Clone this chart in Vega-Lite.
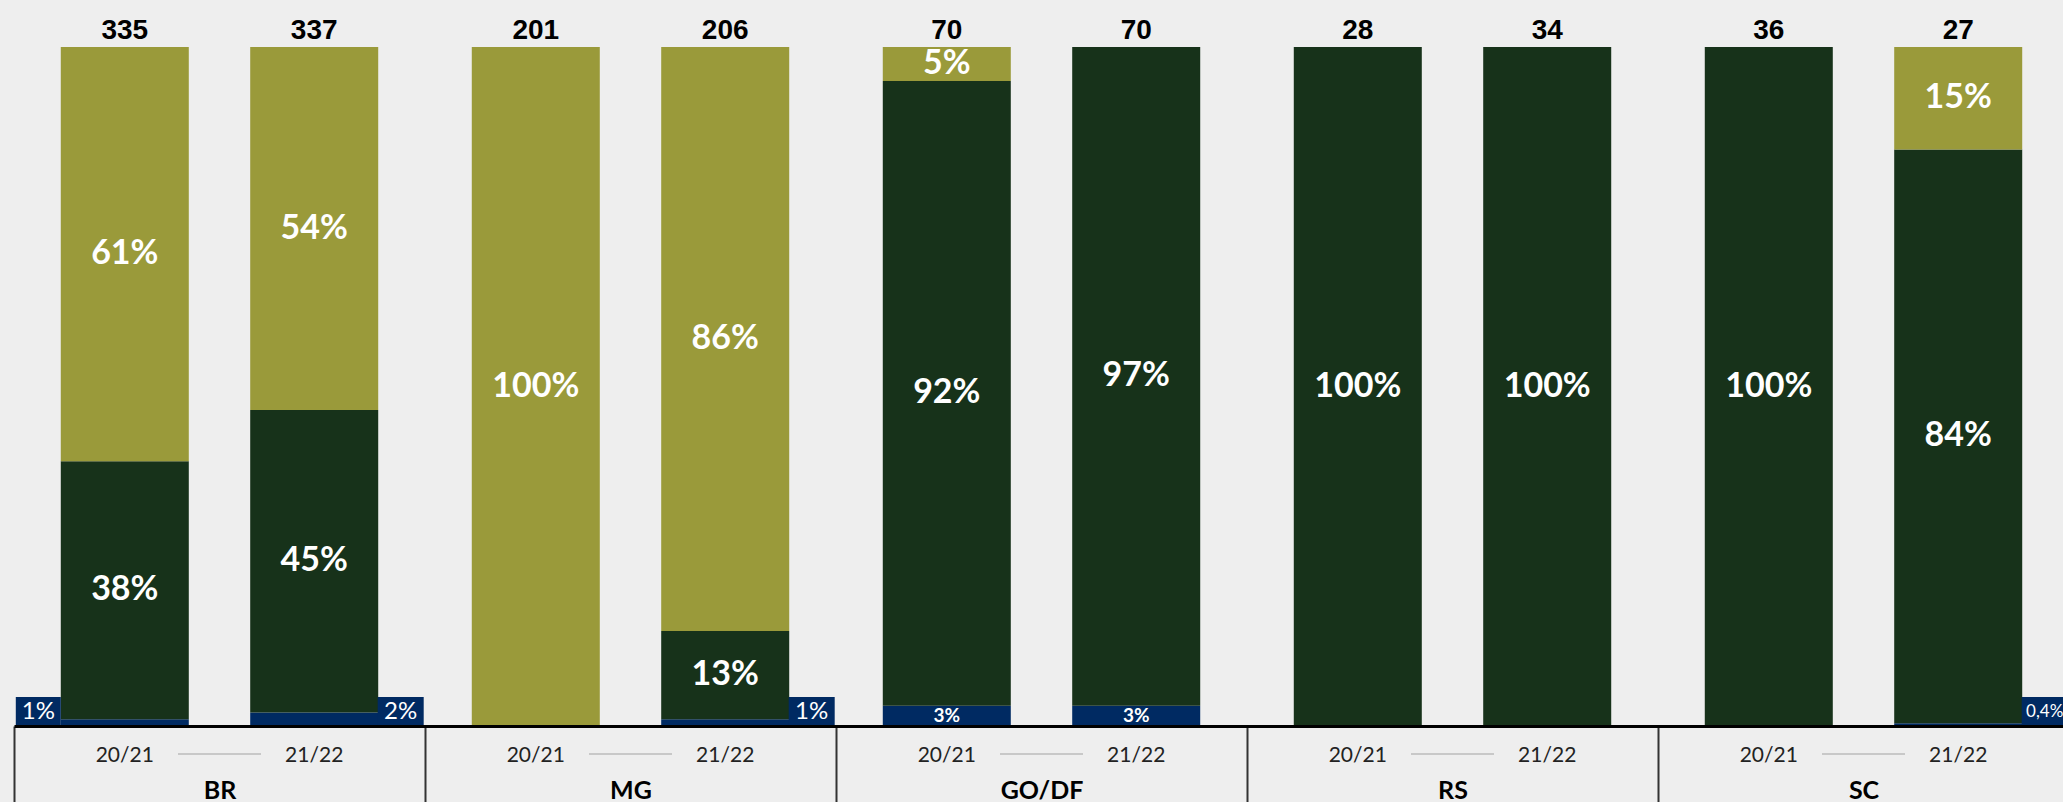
{
  "$schema": "https://vega.github.io/schema/vega-lite/v6.json",
  "width": 2063,
  "height": 679,
  "autosize": {"type": "none"},
  "padding": {"left": 0, "right": 0, "top": 47, "bottom": 76},
  "background": "#eeeeee",
  "config": {"view": {"stroke": null}, "font": "Lato"},
  "datasets": {
    "main": [
      {"group": "BR", "year": "20/21", "cat": "A", "pct": 1, "label": "1%"},
      {"group": "BR", "year": "20/21", "cat": "B", "pct": 38, "label": "38%"},
      {"group": "BR", "year": "20/21", "cat": "C", "pct": 61, "label": "61%"},
      {"group": "BR", "year": "21/22", "cat": "A", "pct": 2, "label": "2%"},
      {"group": "BR", "year": "21/22", "cat": "B", "pct": 45, "label": "45%"},
      {"group": "BR", "year": "21/22", "cat": "C", "pct": 54, "label": "54%"},
      {"group": "MG", "year": "20/21", "cat": "C", "pct": 100, "label": "100%"},
      {"group": "MG", "year": "21/22", "cat": "A", "pct": 1, "label": "1%"},
      {"group": "MG", "year": "21/22", "cat": "B", "pct": 13, "label": "13%"},
      {"group": "MG", "year": "21/22", "cat": "C", "pct": 86, "label": "86%"},
      {"group": "GO/DF", "year": "20/21", "cat": "A", "pct": 3, "label": "3%"},
      {"group": "GO/DF", "year": "20/21", "cat": "B", "pct": 92, "label": "92%"},
      {"group": "GO/DF", "year": "20/21", "cat": "C", "pct": 5, "label": "5%"},
      {"group": "GO/DF", "year": "21/22", "cat": "A", "pct": 3, "label": "3%"},
      {"group": "GO/DF", "year": "21/22", "cat": "B", "pct": 97, "label": "97%"},
      {"group": "RS", "year": "20/21", "cat": "B", "pct": 100, "label": "100%"},
      {"group": "RS", "year": "21/22", "cat": "B", "pct": 100, "label": "100%"},
      {"group": "SC", "year": "20/21", "cat": "B", "pct": 100, "label": "100%"},
      {"group": "SC", "year": "21/22", "cat": "A", "pct": 0.4, "label": "0,4%"},
      {"group": "SC", "year": "21/22", "cat": "B", "pct": 84, "label": "84%"},
      {"group": "SC", "year": "21/22", "cat": "C", "pct": 15, "label": "15%"}
    ],
    "totals": [
      {"group": "BR", "year": "20/21", "total": 335},
      {"group": "BR", "year": "21/22", "total": 337},
      {"group": "MG", "year": "20/21", "total": 201},
      {"group": "MG", "year": "21/22", "total": 206},
      {"group": "GO/DF", "year": "20/21", "total": 70},
      {"group": "GO/DF", "year": "21/22", "total": 70},
      {"group": "RS", "year": "20/21", "total": 28},
      {"group": "RS", "year": "21/22", "total": 34},
      {"group": "SC", "year": "20/21", "total": 36},
      {"group": "SC", "year": "21/22", "total": 27}
    ]
  },
  "layer": [
    {
      "data": {"name": "main"},
      "transform": [
        {"stack": "pct", "groupby": ["group", "year"], "sort": [{"field": "cat", "order": "ascending"}], "offset": "normalize", "as": ["y0", "y1"]}
      ],
      "mark": {"type": "bar"},
      "encoding": {
        "x": {
          "field": "group", "type": "nominal",
          "scale": {"domain": ["BR", "MG", "GO/DF", "RS", "SC"], "range": [14, 2069], "paddingInner": 0, "paddingOuter": 0},
          "axis": {
            "title": null, "labelAngle": 0, "labelFont": "Lato", "labelFontSize": 25, "labelFontWeight": "bold",
            "labelColor": "#000000", "labelBaseline": "alphabetic", "labelPadding": -4,
            "tickBand": "extent", "tickSize": 76, "tickWidth": 2, "tickColor": "#333333",
            "domainColor": "#000000", "domainWidth": 3, "grid": false, "zindex": 1
          }
        },
        "xOffset": {"field": "year", "type": "nominal", "scale": {"paddingInner": 0.3242, "paddingOuter": 0.247}},
        "y": {"field": "y0", "type": "quantitative", "scale": {"domain": [0, 1]}, "axis": null},
        "y2": {"field": "y1"},
        "color": {"field": "cat", "type": "nominal", "scale": {"domain": ["A", "B", "C"], "range": ["#002a62", "#17321a", "#9a9a3a"]}, "legend": null}
      }
    },
    {
      "data": {"name": "main"},
      "transform": [{"filter": "datum.cat === 'A' && datum.group !== 'GO/DF' && datum.year === '20/21'"}],
      "mark": {"type": "bar", "width": 45, "xOffset": -181.2, "color": "#002a62"},
      "encoding": {
        "x": {"field": "group", "type": "nominal"},
        "y": {"datum": 0},
        "y2": {"datum": 0.0427}
      }
    },
    {
      "data": {"name": "main"},
      "transform": [{"filter": "datum.cat === 'A' && datum.group !== 'GO/DF' && datum.year === '21/22'"}],
      "mark": {"type": "bar", "width": 46, "xOffset": 181.2, "color": "#002a62"},
      "encoding": {
        "x": {"field": "group", "type": "nominal"},
        "y": {"datum": 0},
        "y2": {"datum": 0.0427}
      }
    },
    {
      "data": {"name": "main"},
      "transform": [{"filter": "datum.cat === 'A' && datum.group !== 'GO/DF' && datum.year === '20/21'"}],
      "mark": {"type": "text", "xOffset": -181.2, "color": "#ffffff", "font": "Lato", "baseline": "middle", "align": "center"},
      "encoding": {
        "x": {"field": "group", "type": "nominal"},
        "y": {"datum": 0.0213},
        "text": {"field": "label"},
        "size": {"value": 24}
      }
    },
    {
      "data": {"name": "main"},
      "transform": [{"filter": "datum.cat === 'A' && datum.group !== 'GO/DF' && datum.year === '21/22'"}],
      "mark": {"type": "text", "xOffset": 181.2, "color": "#ffffff", "font": "Lato", "baseline": "middle", "align": "center"},
      "encoding": {
        "x": {"field": "group", "type": "nominal"},
        "y": {"datum": 0.0213},
        "text": {"field": "label"},
        "size": {"condition": {"test": "datum.group === 'SC'", "value": 17}, "value": 24}
      }
    },
    {
      "data": {"name": "main"},
      "transform": [
        {"stack": "pct", "groupby": ["group", "year"], "sort": [{"field": "cat", "order": "ascending"}], "offset": "normalize", "as": ["y0", "y1"]},
        {"calculate": "(datum.y0 + datum.y1) / 2", "as": "ymid"},
        {"filter": "datum.cat !== 'A'"}
      ],
      "mark": {"type": "text", "color": "#ffffff", "font": "Lato", "fontWeight": "bold", "fontSize": 34, "baseline": "middle", "align": "center"},
      "encoding": {
        "x": {"field": "group", "type": "nominal"},
        "xOffset": {"field": "year", "type": "nominal", "scale": {"paddingInner": 0.3242, "paddingOuter": 0.247}},
        "y": {"field": "ymid", "type": "quantitative"},
        "text": {"field": "label"}
      }
    },
    {
      "data": {"name": "main"},
      "transform": [
        {"stack": "pct", "groupby": ["group", "year"], "sort": [{"field": "cat", "order": "ascending"}], "offset": "normalize", "as": ["y0", "y1"]},
        {"calculate": "(datum.y0 + datum.y1) / 2", "as": "ymid"},
        {"filter": "datum.cat === 'A' && datum.group === 'GO/DF'"}
      ],
      "mark": {"type": "text", "color": "#ffffff", "font": "Lato", "fontWeight": "bold", "fontSize": 19, "baseline": "middle", "align": "center"},
      "encoding": {
        "x": {"field": "group", "type": "nominal"},
        "xOffset": {"field": "year", "type": "nominal", "scale": {"paddingInner": 0.3242, "paddingOuter": 0.247}},
        "y": {"field": "ymid", "type": "quantitative"},
        "text": {"field": "label"}
      }
    },
    {
      "data": {"name": "totals"},
      "mark": {"type": "text", "color": "#000000", "font": "Liberation Sans", "fontWeight": "bold", "fontSize": 28, "baseline": "alphabetic", "align": "center"},
      "encoding": {
        "x": {"field": "group", "type": "nominal"},
        "xOffset": {"field": "year", "type": "nominal", "scale": {"paddingInner": 0.3242, "paddingOuter": 0.247}},
        "y": {"datum": 1.0118},
        "text": {"field": "total"}
      }
    },
    {
      "data": {"name": "totals"},
      "mark": {"type": "text", "color": "#222222", "font": "Lato", "fontSize": 21, "baseline": "middle", "align": "center"},
      "encoding": {
        "x": {"field": "group", "type": "nominal"},
        "xOffset": {"field": "year", "type": "nominal", "scale": {"paddingInner": 0.3242, "paddingOuter": 0.247}},
        "y": {"datum": -0.0442},
        "text": {"field": "year"}
      }
    },
    {
      "data": {"name": "totals"},
      "transform": [{"filter": "datum.year === '20/21'"}],
      "mark": {"type": "tick", "orient": "horizontal", "size": 83, "thickness": 1, "color": "#999999", "opacity": 0.9},
      "encoding": {
        "x": {"field": "group", "type": "nominal"},
        "y": {"datum": -0.0412}
      }
    }
  ]
}
